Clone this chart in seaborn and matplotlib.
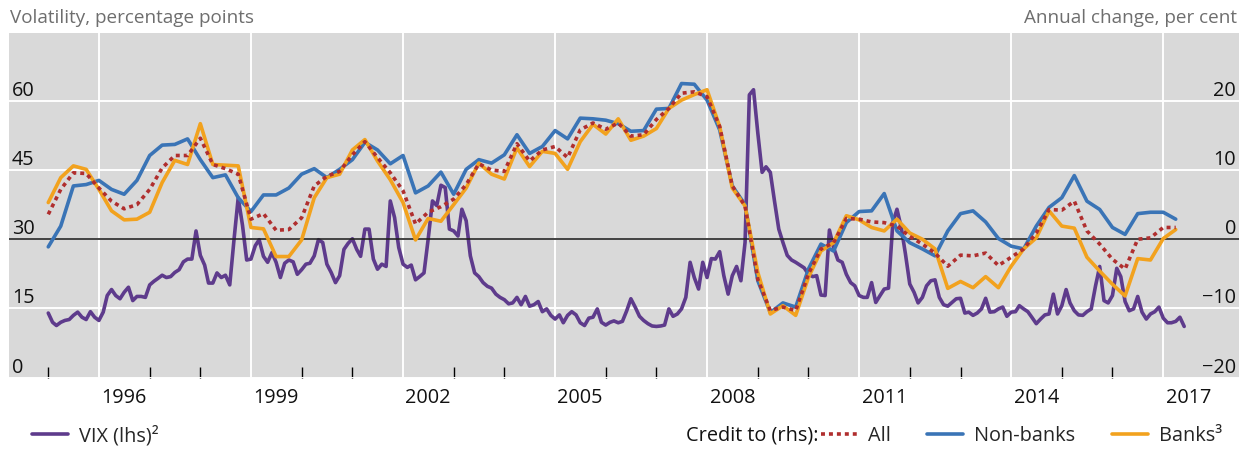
import pandas as pd
import matplotlib.pyplot as plt
import matplotlib.dates as mdates
from matplotlib.lines import Line2D
import seaborn as sns

# VIX, monthly from Jan 1995 (lhs, percentage points)
vix = [14.0, 12.0, 11.3, 12.0, 12.4, 12.6, 13.5, 14.2, 13.1, 12.6,
       14.3, 13.1, 12.4, 14.2, 17.8, 19.1, 17.8, 17.1, 18.5, 19.6,
       16.7, 17.6, 17.6, 17.4, 20.1, 20.9, 21.5, 22.2, 21.7, 21.9,
       22.8, 23.4, 25.1, 25.7, 25.7, 31.8, 26.5, 24.4, 20.5, 20.5,
       22.7, 21.7, 22.2, 20.1, 30.0, 39.0, 33.0, 25.5, 25.7, 28.6,
       29.9, 26.3, 25.0, 27.1, 25.0, 21.7, 24.8, 25.5, 25.1, 22.4,
       23.4, 24.6, 24.8, 26.4, 29.9, 29.3, 24.6, 22.8, 20.6, 22.1,
       27.8, 29.1, 30.1, 27.8, 26.3, 32.2, 32.2, 25.7, 23.5, 24.6,
       24.1, 38.3, 34.7, 28.2, 24.6, 23.9, 24.4, 21.2, 21.9, 22.7,
       30.0, 38.3, 37.3, 41.7, 41.2, 32.2, 31.8, 30.7, 36.5, 34.0,
       26.4, 22.7, 21.9, 20.6, 19.8, 19.4, 18.1, 17.4, 16.9, 16.0,
       16.2, 17.4, 15.8, 17.6, 15.5, 15.8, 16.5, 14.3, 14.9, 13.5,
       12.7, 13.6, 11.9, 13.5, 14.3, 13.6, 11.9, 11.3, 12.9, 13.1,
       14.9, 12.0, 11.4, 12.0, 12.3, 11.9, 12.2, 14.5, 17.1, 15.3,
       13.3, 12.4, 11.7, 11.2, 11.1, 11.2, 11.4, 14.9, 13.3, 13.8,
       14.9, 17.4, 25.0, 21.7, 19.2, 25.0, 21.7, 25.8, 25.7, 27.3,
       22.1, 18.1, 22.1, 24.1, 21.0, 29.3, 61.3, 62.4, 53.0, 44.5,
       45.7, 44.5, 38.3, 32.2, 29.3, 26.5, 25.5, 25.0, 24.4, 23.8,
       22.4, 21.9, 22.1, 17.9, 17.8, 32.0, 28.2, 25.5, 25.0, 22.4,
       20.6, 19.9, 17.8, 17.4, 17.4, 20.6, 16.3, 17.8, 19.2, 19.4,
       33.6, 36.5, 32.5, 26.8, 20.3, 18.5, 16.2, 17.4, 19.9, 21.0,
       21.2, 17.4, 15.8, 15.5, 16.3, 17.1, 17.2, 14.0, 14.2, 13.5,
       14.0, 14.9, 17.2, 14.2, 14.3, 14.9, 15.3, 13.3, 14.2, 14.3,
       15.6, 14.9, 14.3, 13.0, 11.7, 12.7, 13.6, 13.8, 18.1, 13.8,
       15.6, 19.1, 16.2, 14.5, 13.6, 13.5, 14.3, 14.9, 19.9, 24.1,
       16.7, 16.2, 17.8, 23.7, 21.9, 16.5, 14.5, 14.9, 17.6, 14.2,
       12.7, 13.8, 14.3, 15.3, 12.9, 11.9, 11.9, 12.2, 13.1, 11.1]

# Credit growth, quarterly from 1995 Q1 (rhs, annual change in per cent)
credit_all = [3.6, 7.2, 9.6, 9.5, 7.4, 5.5, 4.4, 5.0, 7.2, 10.3,
              12.1, 12.1, 14.6, 10.8, 10.2, 9.4, 2.9, 3.7, 1.3, 1.4,
              3.1, 7.7, 9.1, 9.8, 12.2, 14.1, 11.8, 9.6, 7.0, 2.2,
              3.9, 4.7, 5.8, 7.9, 10.9, 10.0, 9.8, 13.8, 11.3, 12.9,
              13.4, 11.8, 15.8, 16.8, 15.9, 16.8, 14.9, 15.1, 17.3, 18.9,
              21.1, 21.3, 20.6, 16.3, 7.7, 4.8, -5.8, -10.3, -9.8, -10.3,
              -5.0, -1.4, -0.5, 3.0, 2.9, 2.5, 2.4, 1.9, 0.4, -0.7,
              -2.0, -3.9, -2.3, -2.4, -2.0, -3.8, -2.6, -1.4, 0.9, 4.3,
              4.2, 5.5, 1.2, -0.7, -2.9, -4.3, 0.0, 0.2, 1.7, 1.7]
non_banks = [-1.1, 1.9, 7.7, 7.9, 8.5, 7.2, 6.5, 8.5, 12.1, 13.6,
             13.7, 14.5, 11.5, 8.9, 9.3, 6.0, 4.0, 6.4, 6.4, 7.4,
             9.4, 10.2, 8.9, 10.1, 11.5, 14.0, 12.9, 10.9, 12.1, 6.7,
             7.7, 9.7, 6.5, 10.1, 11.5, 11.0, 12.2, 15.1, 12.4, 13.4,
             15.7, 14.5, 17.5, 17.4, 17.2, 16.7, 15.6, 15.7, 18.8, 18.9,
             22.5, 22.4, 20.1, 15.8, 7.7, 5.0, -6.0, -10.6, -9.2, -9.8,
             -4.3, -0.7, -1.7, 2.4, 4.0, 4.1, 6.6, 1.2, -0.5, -1.4,
             -2.4, 1.2, 3.7, 4.1, 2.5, 0.1, -1.0, -1.4, 1.9, 4.6,
             6.0, 9.2, 5.5, 4.3, 1.7, 0.7, 3.7, 3.9, 3.9, 2.9]
banks = [5.3, 8.9, 10.6, 10.1, 7.2, 4.1, 2.8, 2.9, 3.9, 8.2,
         11.4, 10.8, 16.7, 10.8, 10.7, 10.6, 1.7, 1.5, -2.5, -2.5,
         -0.1, 6.0, 8.9, 9.4, 12.9, 14.4, 11.3, 8.6, 5.3, -0.1,
         3.0, 2.6, 5.0, 7.4, 11.0, 9.4, 8.7, 13.2, 10.5, 12.7,
         12.4, 10.1, 14.1, 16.6, 15.2, 17.4, 14.3, 14.9, 16.0, 18.9,
         20.1, 20.9, 21.6, 16.3, 7.4, 4.8, -4.8, -10.8, -9.6, -11.0,
         -5.5, -1.7, -0.5, 3.4, 2.8, 1.7, 1.2, 2.9, 0.9, 0.0,
         -1.4, -7.1, -6.1, -7.0, -5.4, -7.0, -3.9, -1.4, 0.2, 4.1,
         1.9, 1.6, -2.6, -4.6, -6.5, -8.2, -2.8, -3.0, 0.1, 1.4]

year_labels = [1996, 1999, 2002, 2005, 2008, 2011, 2014, 2017]
left_ticks = [0, 15, 30, 45, 60]
right_ticks = [-20, -10, 0, 10, 20]

vix_df = pd.DataFrame({'date': pd.date_range('1995-01-01', periods=len(vix), freq='MS'),
                       'vix': vix})
credit_df = pd.DataFrame({'date': pd.date_range('1995-01-01', periods=len(banks), freq='QS'),
                          'all': credit_all, 'non_banks': non_banks, 'banks': banks})

PURPLE = '#5e3b8c'
BLUE = '#3a74b6'
ORANGE = '#f2a21e'
RED = '#b02e2e'

sns.set_style('dark', {'axes.facecolor': '#d9d9d9'})
plt.rcParams['font.family'] = ['Open Sans', 'DejaVu Sans']
plt.rcParams['font.size'] = 14

fig = plt.figure(figsize=(12.52, 4.5), dpi=100)
ax = fig.add_axes([9 / 1252, 1 - 378 / 450, 1230 / 1252, 345 / 450])
ax2 = ax.twinx()
ax2.patch.set_visible(False)

sns.lineplot(data=vix_df, x='date', y='vix', ax=ax, color=PURPLE, lw=2.6, legend=False)
sns.lineplot(data=credit_df, x='date', y='non_banks', ax=ax2, color=BLUE, lw=2.6, legend=False)
sns.lineplot(data=credit_df, x='date', y='banks', ax=ax2, color=ORANGE, lw=2.6, legend=False)
sns.lineplot(data=credit_df, x='date', y='all', ax=ax2, color=RED, lw=2.6,
             linestyle=(0, (1.1, 1.1)), legend=False)
ax2.axhline(0, color='#222222', lw=1.2, zorder=1)

ax.set_ylim(-0.075, 74.7)
ax2.set_ylim(-20.05, 29.8)
ax.set_xlim(pd.Timestamp('1994-03-24'), pd.Timestamp('2018-07-01'))

# x axis: long ticks every 3 years, short ticks each year, labels mid-year
major = [mdates.date2num(pd.Timestamp(f'{y}-01-01')) for y in year_labels]
minor = [mdates.date2num(pd.Timestamp(f'{y}-01-01')) for y in range(1995, 2018)]
ax.xaxis.set_major_locator(plt.FixedLocator(major))
ax.xaxis.set_minor_locator(plt.FixedLocator(minor))
ax.tick_params(axis='x', which='major', direction='in', length=15.8, width=1, color='black',
               labelbottom=False)
ax.tick_params(axis='x', which='minor', direction='in', length=7.9, width=1, color='black',
               bottom=True)
for y in year_labels:
    ax.text(pd.Timestamp(f'{y}-07-01'), -0.058, str(y), transform=ax.get_xaxis_transform(),
            ha='center', va='center', fontsize=14.3, color='#111111')

# y axes: labels inside the plot, sitting on the gridlines
ax.set_yticks(left_ticks)
ax.tick_params(axis='y', length=0, pad=-2, labelsize=14.3, labelcolor='#111111')
plt.setp(ax.get_yticklabels(), ha='left', va='bottom')
ax2.set_yticks(right_ticks)
ax2.tick_params(axis='y', length=0, pad=-2, labelsize=14.3, labelcolor='#111111')
plt.setp(ax2.get_yticklabels(), ha='right', va='bottom')

ax.grid(axis='x', which='major', color='white', lw=1.4)
ax.grid(axis='y', color='white', lw=1.4)
ax2.grid(False)
for a in (ax, ax2):
    a.set_xlabel('')
    a.set_ylabel('')
    for s in a.spines.values():
        s.set_visible(False)

fig.text(10 / 1252, 1 - 18 / 450, 'Volatility, percentage points', ha='left', va='center',
         fontsize=13.6, color='#6e6e6e')
fig.text(1237 / 1252, 1 - 18 / 450, 'Annual change, per cent', ha='right', va='center',
         fontsize=13.6, color='#6e6e6e')

# legends
vix_handle = Line2D([], [], color=PURPLE, lw=2.6)
fig.legend([vix_handle], ['VIX (lhs)²'], loc='center left',
           bbox_to_anchor=(32 / 1252, 1 - 436 / 450), frameon=False, borderpad=0,
           borderaxespad=0, handlelength=1.8, handletextpad=0.55, fontsize=14.3)
fig.text(818 / 1252, 1 - 436 / 450, 'Credit to (rhs):', ha='right', va='center',
         fontsize=14.3, color='#111111')
credit_handles = [Line2D([], [], color=RED, lw=2.6, linestyle=(0, (1.1, 1.1))),
                  Line2D([], [], color=BLUE, lw=2.6),
                  Line2D([], [], color=ORANGE, lw=2.6)]
fig.legend(credit_handles, ['All', 'Non-banks', 'Banks³'], loc='center left',
           bbox_to_anchor=(821 / 1252, 1 - 436 / 450), ncol=3, frameon=False, borderpad=0,
           borderaxespad=0, handlelength=1.8, handletextpad=0.55, columnspacing=1.85,
           fontsize=14.3)

fig.savefig('out.png', dpi=100)
